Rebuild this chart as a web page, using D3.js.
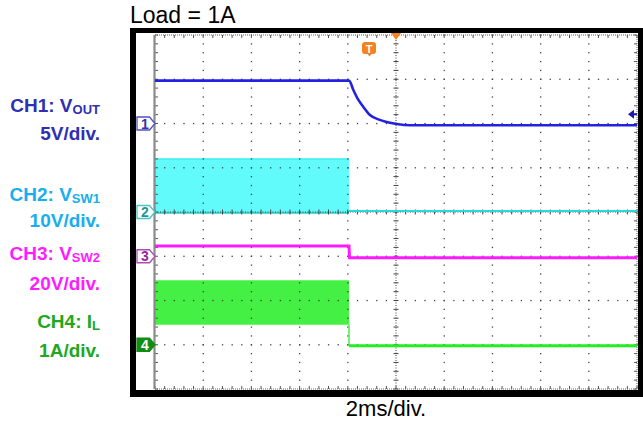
<!DOCTYPE html>
<html><head><meta charset="utf-8">
<script src="https://cdn.jsdelivr.net/npm/d3@7"></script>
<style>body{margin:0;background:#fff}svg{display:block;font-family:"Liberation Sans",Arial,sans-serif}</style>
</head><body><svg id="c" width="643" height="421"></svg>
<script>
// ---- data (time in ms, 2 ms/div, trigger at 0) ----
const titleText = "Load = 1A";
const timeLabel = "2ms/div.";
const ch1Time  = [-10, -1.95, -1.77, -1.56, -1.36, -1.08, -0.73, -0.39, 0.03, 0.6, 10];
const ch1Volts = [4.85, 4.85, 3.79, 2.66, 1.90, 0.96, 0.47, 0.17, -0.06, -0.2, -0.2];
const ch2BandTime = [-10, -1.95];
const ch2BandHigh = [12.0, 12.0];
const ch2BandLow  = [-0.2, -0.2];
const ch2Time  = [-1.95, 10];
const ch2Volts = [0.2, 0.2];
const ch3Time  = [-10, -1.95, -1.93, 10];
const ch3Volts = [4.6, 4.6, -0.7, -0.7];
const ch4BandTime = [-10, -1.95];
const ch4BandHigh = [1.46, 1.46];
const ch4BandLow  = [0.45, 0.45];
const ch4Time  = [-1.95, -1.95, 10];
const ch4Amps  = [0.45, -0.02, -0.02];
// channel ground position (divisions from centre) and units per division
const chGround = [2, 0, -1, -3];
const chPerDiv = [5, 10, 20, 1];
const chNames  = ["1", "2", "3", "4"];
const labelMain = ["CH1: V", "CH2: V", "CH3: V", "CH4: I"];
const labelSub  = ["OUT", "SW1", "SW2", "L"];
const labelScale = ["5V/div.", "10V/div.", "20V/div.", "1A/div."];
const labelColors = ["#2f2fb4", "#18aef0", "#ff1cff", "#20a820"];

const svg = d3.select("#c");
const x = d3.scaleLinear().domain([-10, 10]).range([155, 637]);
const y = d3.scaleLinear().domain([-4, 4]).range([389, 35]);
const yc = (ch, v) => y(chGround[ch] + v / chPerDiv[ch]);

// frame
svg.append("rect").attr("x", 130).attr("y", 28).attr("width", 513).attr("height", 369).attr("fill", "#000");
svg.append("rect").attr("x", 136).attr("y", 33).attr("width", 502).attr("height", 357).attr("fill", "#fff");

// bands (switching waveforms)
const band = (ch, t, hi, lo) => d3.area().x((d, i) => x(t[i])).y0((d, i) => yc(ch, lo[i])).y1((d, i) => yc(ch, hi[i]))(t);
svg.append("path").attr("d", band(1, ch2BandTime, ch2BandHigh, ch2BandLow)).attr("fill", "#62fbfb");
svg.append("path").attr("d", d3.line()([[x(ch2BandTime[0]), yc(1, ch2BandLow[0])], [x(ch2BandTime[1]), yc(1, ch2BandLow[1])]])).attr("stroke", "#2cc8c8").attr("stroke-width", 1.5);
svg.append("path").attr("d", d3.line()([[x(ch2BandTime[0]), yc(1, ch2BandHigh[0])], [x(ch2BandTime[1]), yc(1, ch2BandHigh[1])]])).attr("stroke", "#3af0f0").attr("stroke-width", 1.5);
svg.append("path").attr("d", band(3, ch4BandTime, ch4BandHigh, ch4BandLow)).attr("fill", "#44f044");

// grid
const grid = svg.append("g").attr("fill", "#444");
const xs = d3.range(0, 51).map(i => -10 + i * 0.4);
const ys = d3.range(0, 41).map(i => -4 + i * 0.2);
const dot = (px, py) => grid.append("rect").attr("x", px - 0.6).attr("y", py - 0.6).attr("width", 1.3).attr("height", 1.3);
[-8, -6, -4, -2, 2, 4, 6, 8].forEach(t => ys.forEach(v => dot(x(t), y(v))));
[-3, -2, -1, 1, 2, 3].forEach(v => xs.forEach(t => dot(x(t), y(v))));
// centre lines with ticks
svg.append("line").attr("x1", x(0)).attr("x2", x(0)).attr("y1", y(4)).attr("y2", y(-4)).attr("stroke", "#444").attr("stroke-dasharray", "1,1.5");
svg.append("line").attr("y1", y(0)).attr("y2", y(0)).attr("x1", x(-10)).attr("x2", x(10)).attr("stroke", "#444").attr("stroke-dasharray", "1,1.5");
ys.forEach(v => svg.append("line").attr("x1", x(0) - 2.5).attr("x2", x(0) + 2.5).attr("y1", y(v)).attr("y2", y(v)).attr("stroke", "#444"));
xs.forEach(t => svg.append("line").attr("y1", y(0) - 2.5).attr("y2", y(0) + 2.5).attr("x1", x(t)).attr("x2", x(t)).attr("stroke", "#444"));
// edges
svg.append("line").attr("x1", x(-10)).attr("x2", x(10)).attr("y1", y(4)).attr("y2", y(4)).attr("stroke", "#666").attr("stroke-dasharray", "1,1");
svg.append("line").attr("x1", x(-10)).attr("x2", x(10)).attr("y1", y(-4)).attr("y2", y(-4)).attr("stroke", "#666").attr("stroke-dasharray", "1,1");
svg.append("line").attr("x1", x(10)).attr("x2", x(10)).attr("y1", y(4)).attr("y2", y(-4)).attr("stroke", "#666").attr("stroke-dasharray", "1,1");
xs.forEach(t => {
  svg.append("line").attr("x1", x(t)).attr("x2", x(t)).attr("y1", y(4)).attr("y2", y(4) + 3).attr("stroke", "#555");
  svg.append("line").attr("x1", x(t)).attr("x2", x(t)).attr("y1", y(-4)).attr("y2", y(-4) - 3).attr("stroke", "#555");
});
ys.forEach(v => {
  svg.append("line").attr("x1", x(-10)).attr("x2", x(-10) + 3).attr("y1", y(v)).attr("y2", y(v)).attr("stroke", "#555");
  svg.append("line").attr("x1", x(10)).attr("x2", x(10) - 3).attr("y1", y(v)).attr("y2", y(v)).attr("stroke", "#555");
});
svg.append("line").attr("x1", x(-10) - 0.5).attr("x2", x(-10) - 0.5).attr("y1", y(4)).attr("y2", y(-4)).attr("stroke", "#8a8a8a").attr("stroke-width", 2.2);

// traces
const line = d3.line().x(d => x(d[0])).y(d => d[1]);
svg.append("path").attr("fill", "none").attr("stroke", "#2bd8d8").attr("stroke-width", 2)
  .attr("d", line(ch2Time.map((t, i) => [t, yc(1, ch2Volts[i])])));
svg.append("path").attr("fill", "none").attr("stroke", "#ff1aff").attr("stroke-width", 3)
  .attr("d", line(ch3Time.map((t, i) => [t, yc(2, ch3Volts[i])])));
svg.append("path").attr("fill", "none").attr("stroke", "#22ee22").attr("stroke-width", 3)
  .attr("d", line(ch4Time.slice(1).map((t, i) => [t, yc(3, ch4Amps[i + 1])])));
svg.append("path").attr("fill", "none").attr("stroke", "#33e833").attr("stroke-width", 1.3)
  .attr("d", line(ch4Time.slice(0, 2).map((t, i) => [t, yc(3, ch4Amps[i])])));
svg.append("path").attr("fill", "none").attr("stroke", "#2222e0").attr("stroke-width", 2.6)
  .attr("d", d3.line().curve(d3.curveMonotoneX).x(d => x(d[0])).y(d => d[1])(ch1Time.map((t, i) => [t, yc(0, ch1Volts[i])])));

// channel ground markers
const mStroke = ["#5252c4", "#4cc4c4", "#b04cb4", "#138c13"];
const mFill = ["#fff", "#fff", "#fff", "#138c13"];
const mText = ["#3434a8", "#1e9696", "#962896", "#fff"];
chNames.forEach((n, i) => {
  const cy = y(chGround[i]);
  svg.append("path").attr("d", `M137,${cy - 6.5}H149.5L155,${cy}L149.5,${cy + 6.5}H137Z`)
    .attr("fill", mFill[i]).attr("stroke", mStroke[i]).attr("stroke-width", 1.3);
  svg.append("text").attr("x", 145).attr("y", cy + 5).attr("text-anchor", "middle")
    .attr("font-size", 14).attr("font-weight", "bold").attr("fill", mText[i]).text(n);
});

// trigger marks
svg.append("path").attr("d", `M${x(0) - 5},33H${x(0) + 5}L${x(0)},40Z`).attr("fill", "#f58220");
svg.append("path").attr("d", "M365,42H373Q376,42 376,45V51Q376,54 373,54H371.5L369.5,56.5L367.5,54H365Q362,54 362,51V45Q362,42 365,42Z").attr("fill", "#f58220");
svg.append("text").attr("x", 369).attr("y", 52.5).attr("text-anchor", "middle").attr("font-size", 11).attr("font-weight", "bold").attr("fill", "#fff").text("T");
const trigY = yc(0, 1.05);
svg.append("path").attr("d", `M628,${trigY}L634,${trigY - 4.5}V${trigY + 4.5}Z`).attr("fill", "#1a1aa8");
svg.append("line").attr("x1", 632).attr("x2", 637).attr("y1", trigY).attr("y2", trigY).attr("stroke", "#1a1aa8").attr("stroke-width", 2);

// texts
svg.append("text").attr("x", 130).attr("y", 23).attr("font-size", 23).attr("fill", "#000").text(titleText);
svg.append("text").attr("x", 386).attr("y", 416).attr("text-anchor", "middle").attr("font-size", 22).attr("fill", "#000").text(timeLabel);
const mainBase = [112, 201, 260, 328];
const scaleBase = [140, 227, 290, 357];
labelMain.forEach((m, i) => {
  const t = svg.append("text").attr("x", 100).attr("y", mainBase[i]).attr("text-anchor", "end")
    .attr("font-size", 19).attr("font-weight", "bold").attr("fill", labelColors[i]);
  t.append("tspan").text(m);
  t.append("tspan").attr("font-size", 13).attr("dy", 1.5).text(labelSub[i]);
  svg.append("text").attr("x", 100).attr("y", scaleBase[i]).attr("text-anchor", "end")
    .attr("font-size", 19).attr("font-weight", "bold").attr("fill", labelColors[i]).text(labelScale[i]);
});
</script></body></html>
